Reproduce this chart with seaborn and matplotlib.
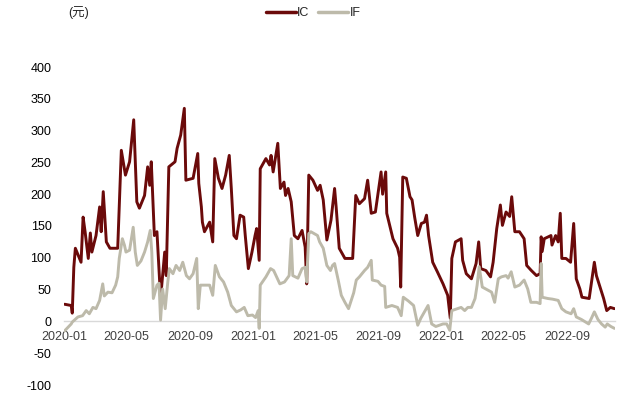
import pandas as pd
import matplotlib
matplotlib.use("Agg")
import matplotlib.pyplot as plt
import matplotlib.dates as mdates
import seaborn as sns

# IC basis (元)
ic_dates = [
    "2020-01-02", "2020-01-15", "2020-01-17", "2020-01-20", "2020-01-23", "2020-02-03",
    "2020-02-07", "2020-02-11", "2020-02-17", "2020-02-21", "2020-02-24", "2020-03-03",
    "2020-03-10", "2020-03-13", "2020-03-17", "2020-03-23", "2020-03-30", "2020-04-14",
    "2020-04-21", "2020-04-29", "2020-05-07", "2020-05-15", "2020-05-21", "2020-05-26",
    "2020-06-05", "2020-06-11", "2020-06-15", "2020-06-18", "2020-06-24", "2020-06-29",
    "2020-07-06", "2020-07-14", "2020-07-17", "2020-07-22", "2020-08-03", "2020-08-07",
    "2020-08-14", "2020-08-21", "2020-08-24", "2020-09-07", "2020-09-16", "2020-09-18",
    "2020-09-23", "2020-09-25", "2020-09-29", "2020-10-09", "2020-10-15", "2020-10-19",
    "2020-10-26", "2020-11-02", "2020-11-09", "2020-11-16", "2020-11-20", "2020-11-25",
    "2020-11-30", "2020-12-07", "2020-12-14", "2020-12-17", "2020-12-23", "2020-12-30",
    "2021-01-05", "2021-01-08", "2021-01-13", "2021-01-15", "2021-01-26", "2021-02-02",
    "2021-02-05", "2021-02-09", "2021-02-18", "2021-02-23", "2021-03-02", "2021-03-05",
    "2021-03-10", "2021-03-16", "2021-03-22", "2021-03-29", "2021-04-06", "2021-04-12",
    "2021-04-15", "2021-04-19", "2021-04-27", "2021-05-06", "2021-05-11", "2021-05-17",
    "2021-05-24", "2021-06-01", "2021-06-08", "2021-06-11", "2021-06-17", "2021-06-28",
    "2021-07-13", "2021-07-19", "2021-07-26", "2021-08-05", "2021-08-11", "2021-08-18",
    "2021-08-26", "2021-09-06", "2021-09-09", "2021-09-15", "2021-09-17", "2021-09-29",
    "2021-10-08", "2021-10-12", "2021-10-14", "2021-10-18", "2021-10-25", "2021-11-01",
    "2021-11-05", "2021-11-10", "2021-11-16", "2021-11-23", "2021-11-29", "2021-12-03",
    "2021-12-07", "2021-12-15", "2021-12-24", "2022-01-04", "2022-01-13", "2022-01-18",
    "2022-01-21", "2022-01-28", "2022-02-08", "2022-02-11", "2022-02-18", "2022-02-28",
    "2022-03-09", "2022-03-14", "2022-03-18", "2022-03-28", "2022-04-06", "2022-04-11",
    "2022-04-18", "2022-04-25", "2022-04-29", "2022-05-06", "2022-05-13", "2022-05-17",
    "2022-05-23", "2022-06-01", "2022-06-10", "2022-06-15", "2022-06-24", "2022-07-04",
    "2022-07-11", "2022-07-13", "2022-07-15", "2022-07-19", "2022-08-01", "2022-08-03",
    "2022-08-10", "2022-08-15", "2022-08-19", "2022-08-22", "2022-08-30", "2022-09-08",
    "2022-09-14", "2022-09-19", "2022-09-26", "2022-09-30", "2022-10-14", "2022-10-24",
    "2022-10-28", "2022-11-04", "2022-11-11", "2022-11-17", "2022-11-24", "2022-12-02",
]
ic_values = [
    27, 25, 13, 85, 115, 93,
    164, 140, 99, 139, 109, 135,
    180, 141, 204, 125, 115, 115,
    269, 230, 251, 317, 188, 178,
    198, 243, 214, 251, 135, 141,
    36, 109, 72, 243, 251, 272,
    293, 335, 222, 225, 264, 217,
    180, 156, 141, 156, 125, 256,
    225, 209, 230, 261, 209, 135,
    130, 167, 164, 135, 83, 109,
    135, 146, 96, 240, 256, 246,
    261, 235, 280, 209, 219, 198,
    209, 188, 135, 130, 143, 117,
    59, 230, 222, 206, 214, 191,
    128, 159, 209, 180, 115, 99,
    99, 198, 185, 193, 222, 170,
    172, 235, 200, 235, 170, 130,
    115, 101, 54, 227, 225, 196,
    191, 164, 135, 154, 156, 167,
    135, 93, 78, 59, 41, 5,
    99, 125, 130, 96, 75, 67,
    91, 125, 83, 80, 70, 93,
    146, 183, 151, 172, 165, 196,
    141, 141, 130, 88, 80, 72,
    75, 133, 110, 130, 135, 120,
    135, 125, 170, 99, 99, 93,
    154, 67, 51, 38, 36, 93,
    72, 54, 36, 17, 22, 20,
]

# IF basis (元)
if_dates = [
    "2020-01-02", "2020-01-15", "2020-01-17", "2020-01-28", "2020-02-06", "2020-02-13",
    "2020-02-19", "2020-02-26", "2020-03-03", "2020-03-10", "2020-03-16", "2020-03-19",
    "2020-03-26", "2020-04-03", "2020-04-10", "2020-04-14", "2020-04-17", "2020-04-23",
    "2020-04-27", "2020-04-30", "2020-05-07", "2020-05-14", "2020-05-18", "2020-05-22",
    "2020-05-29", "2020-06-05", "2020-06-11", "2020-06-16", "2020-06-19", "2020-06-22",
    "2020-06-29", "2020-07-03", "2020-07-06", "2020-07-10", "2020-07-15", "2020-07-20",
    "2020-07-23", "2020-07-30", "2020-08-05", "2020-08-12", "2020-08-18", "2020-08-25",
    "2020-08-31", "2020-09-07", "2020-09-14", "2020-09-17", "2020-09-21", "2020-09-29",
    "2020-10-09", "2020-10-15", "2020-10-20", "2020-10-28", "2020-11-05", "2020-11-13",
    "2020-11-20", "2020-11-30", "2020-12-08", "2020-12-15", "2020-12-22", "2020-12-31",
    "2021-01-06", "2021-01-11", "2021-01-13", "2021-01-15", "2021-01-26", "2021-02-04",
    "2021-02-10", "2021-02-22", "2021-03-03", "2021-03-12", "2021-03-16", "2021-03-19",
    "2021-03-29", "2021-04-06", "2021-04-12", "2021-04-15", "2021-04-19", "2021-04-23",
    "2021-05-06", "2021-05-10", "2021-05-17", "2021-05-24", "2021-05-31", "2021-06-04",
    "2021-06-08", "2021-06-15", "2021-06-21", "2021-06-28", "2021-07-05", "2021-07-09",
    "2021-07-15", "2021-07-20", "2021-07-26", "2021-08-05", "2021-08-11", "2021-08-18",
    "2021-08-20", "2021-08-31", "2021-09-06", "2021-09-13", "2021-09-15", "2021-09-27",
    "2021-10-08", "2021-10-15", "2021-10-19", "2021-10-29", "2021-11-08", "2021-11-16",
    "2021-11-22", "2021-12-06", "2021-12-13", "2021-12-21", "2022-01-04", "2022-01-11",
    "2022-01-17", "2022-01-21", "2022-01-28", "2022-02-08", "2022-02-15", "2022-02-21",
    "2022-02-28", "2022-03-07", "2022-03-11", "2022-03-15", "2022-03-21", "2022-04-01",
    "2022-04-08", "2022-04-14", "2022-04-21", "2022-04-27", "2022-05-06", "2022-05-10",
    "2022-05-16", "2022-05-23", "2022-06-01", "2022-06-10", "2022-06-17", "2022-06-23",
    "2022-07-04", "2022-07-11", "2022-07-13", "2022-07-15", "2022-07-26", "2022-08-04",
    "2022-08-15", "2022-08-22", "2022-08-30", "2022-09-09", "2022-09-14", "2022-09-19",
    "2022-09-29", "2022-10-13", "2022-10-19", "2022-10-24", "2022-10-31", "2022-11-07",
    "2022-11-14", "2022-11-18", "2022-11-25", "2022-12-02",
]
if_values = [
    -15, -4, -1, 7, 9, 17,
    12, 22, 20, 33, 59, 40,
    46, 45, 57, 70, 99, 130,
    120, 109, 112, 148, 109, 88,
    95, 109, 125, 143, 109, 36,
    57, 60, 2, 51, 20, 62,
    83, 75, 88, 80, 93, 72,
    67, 75, 99, 20, 57, 57,
    57, 41, 88, 70, 62, 46,
    25, 15, 18, 22, 9, 10,
    6, 17, -11, 57, 70, 83,
    80, 59, 62, 72, 130, 72,
    68, 83, 85, 62, 138, 141,
    135, 125, 115, 88, 80, 88,
    91, 65, 41, 30, 20, 30,
    45, 65, 70, 80, 85, 96,
    65, 63, 57, 55, 22, 25,
    22, 9, 38, 32, 25, -6,
    5, 25, -4, -8, -4, -4,
    -14, 17, 19, 22, 17, 22,
    22, 36, 57, 86, 54, 49,
    46, 30, 67, 70, 72, 68,
    78, 54, 57, 65, 51, 30,
    30, 28, 91, 38, 36, 35,
    33, 20, 15, 12, 20, 7,
    3, -4, 6, 15, 3, -4,
    -9, -4, -8, -11,
]

series_names = ["IC", "IF"]
line_colors = ["#6B0A0A", "#BDBAAA"]
y_ticks = list(range(-100, 401, 50))

df = pd.concat([
    pd.DataFrame({"date": pd.to_datetime(ic_dates), "value": ic_values, "series": "IC"}),
    pd.DataFrame({"date": pd.to_datetime(if_dates), "value": if_values, "series": "IF"}),
])

sns.set_style("white")
plt.rcParams["font.family"] = ["Liberation Sans", "Noto Sans CJK SC", "DejaVu Sans"]
plt.rcParams["axes.unicode_minus"] = False

fig = plt.figure(figsize=(6.3, 3.95), dpi=100)
ax = fig.add_axes([64 / 630, 1 - 385 / 395, (615 - 64) / 630, (385 - 67) / 395])

sns.lineplot(data=df, x="date", y="value", hue="series", hue_order=series_names,
             palette=dict(zip(series_names, line_colors)), estimator=None,
             linewidth=2.1, ax=ax, legend=False)

ax.set_xlim(pd.Timestamp("2020-01-01"), pd.Timestamp("2022-12-03"))
ax.set_ylim(-100, 400)
ax.set_yticks(y_ticks)
ax.set_xlabel("")
ax.set_ylabel("")

ax.xaxis.set_major_locator(mdates.MonthLocator(bymonth=[1, 5, 9]))
ax.xaxis.set_major_formatter(mdates.DateFormatter("%Y-%m"))

for s in ["top", "right", "left"]:
    ax.spines[s].set_visible(False)
ax.spines["bottom"].set_position(("data", 0))
ax.spines["bottom"].set_color("#D9D9D9")
ax.spines["bottom"].set_linewidth(1.0)
ax.spines["bottom"].set_zorder(0)

ax.tick_params(axis="x", direction="out", length=4, width=0.8, color="#D9D9D9",
               labelsize=9, labelcolor="#404040", pad=3)
ax.tick_params(axis="y", length=0, labelsize=9, labelcolor="black", pad=9)

fig.text(68 / 630, 1 - 13 / 395, "(元)", fontsize=9, ha="left", va="center")

handles = [plt.Line2D([], [], color=c, linewidth=2.5) for c in line_colors]
fig.legend(handles, series_names, loc="center", bbox_to_anchor=(0.497, 1 - 13 / 395),
           ncol=2, frameon=False, fontsize=9, handlelength=2.4, handletextpad=0.1,
           columnspacing=0.7)

fig.savefig("out.png", dpi=100)
